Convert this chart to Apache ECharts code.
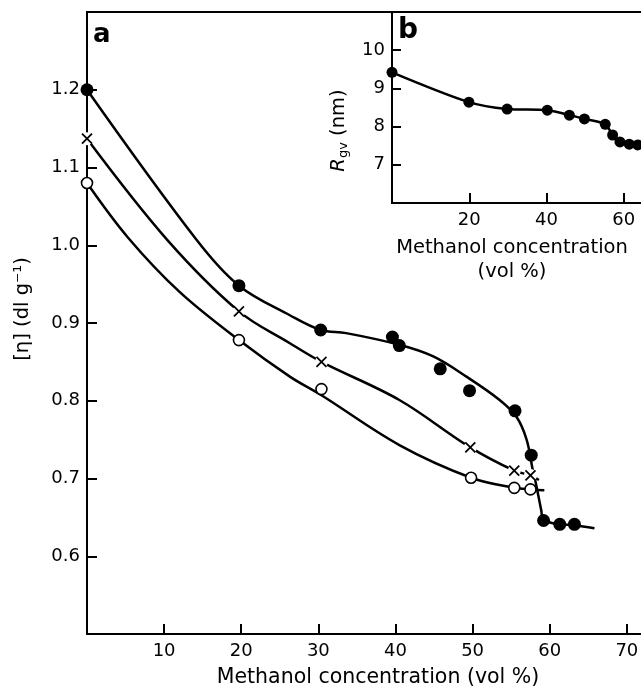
<!DOCTYPE html>
<html><head><meta charset="utf-8">
<script src="https://cdn.jsdelivr.net/npm/echarts@6/dist/echarts.min.js"></script>
<style>html,body{margin:0;padding:0;background:#fff}#c{width:641px;height:691px}</style>
</head><body><div id="c"></div>
<script>
// ---- Panel a : intrinsic viscosity vs methanol concentration ----
const filledPts = [[0,1.200],[19.7,0.948],[30.3,0.891],[39.6,0.882],[40.5,0.871],[45.8,0.841],[49.6,0.813],[55.5,0.787],[57.6,0.730],[59.2,0.646],[61.3,0.641],[63.2,0.641]];
const crossPts  = [[0,1.137],[19.7,0.915],[30.4,0.850],[49.7,0.740],[55.4,0.710],[57.5,0.704]];
const openPts   = [[0,1.080],[19.7,0.878],[30.4,0.815],[49.8,0.701],[55.4,0.688],[57.5,0.686]];
// hand-drawn fit curves
const filledFit = [[0,1.200],[14.2,1.007],[19.7,0.948],[26.3,0.910],[30.3,0.891],[33.6,0.887],[40.5,0.872],[44.9,0.857],[49.2,0.831],[53.5,0.801],[55.7,0.779],[57.0,0.750],[57.8,0.711],[58.2,0.694],[58.9,0.659],[59.2,0.647],[61.3,0.641],[63.2,0.640],[65.8,0.636]];
const crossFit  = [[0,1.137],[10.4,1.007],[19.7,0.915],[26.3,0.874],[30.4,0.850],[40.5,0.801],[49.7,0.740],[55.4,0.710],[57.5,0.704],[58.6,0.698]];
const openFit   = [[0,1.080],[5.3,1.010],[12,0.940],[19.7,0.878],[26.3,0.831],[30.4,0.807],[40.5,0.743],[49.8,0.701],[55.4,0.688],[57.5,0.686],[59.3,0.685]];
const mainXTicks = [10,20,30,40,50,60,70];
const mainYTicks = [0.6,0.7,0.8,0.9,1.0,1.1,1.2];
// ---- Panel b : Rgv vs methanol concentration ----
const rgvX = [0,19.9,29.8,40.2,45.9,49.8,55.2,57.1,59.0,61.4,63.6];
const rgvY = [9.42,8.64,8.46,8.43,8.30,8.20,8.06,7.78,7.60,7.54,7.52];
const insetXTicks = [20,40,60];
const insetYTicks = [7,8,9,10];

const FONT = 'DejaVu Sans';
const tickTxt = {color:'#000', fontFamily: FONT, fontSize: 18};
const nameTxt = {color:'#000', fontFamily: FONT, fontSize: 19.5};
const chart = echarts.init(document.getElementById('c'), null, {renderer:'canvas'});
const line = {color:'#000', width:2};
const tick = (len) => ({show:true, inside:true, length:len, lineStyle:{color:'#000', width:2}});

chart.setOption({
  animation:false,
  backgroundColor:'#fff',
  grid:[
    {left:87, top:12, width:563, height:622, show:true, borderColor:'#000', borderWidth:2, backgroundColor:'transparent', outerBoundsMode:'none', containLabel:false},
    {left:392, top:12, width:255, height:191, show:true, borderColor:'#000', borderWidth:2, backgroundColor:'#fff', z:5, outerBoundsMode:'none', containLabel:false}
  ],
  xAxis:[
    {gridIndex:0, type:'value', min:0, max:73, interval:10, splitLine:{show:false},
     axisLine:{lineStyle:line}, axisTick:tick(10),
     axisLabel:{...tickTxt, margin:8, formatter:v => mainXTicks.includes(v) ? String(v) : ''},
     name:'Methanol concentration (vol %)', nameLocation:'middle', nameGap:33,
     nameTextStyle:{...nameTxt, fontSize:20.5, padding:[0,0,0,19]}},
    {gridIndex:1, type:'value', min:0, max:66, interval:20, splitLine:{show:false}, z:6,
     axisLine:{lineStyle:line}, axisTick:tick(10),
     axisLabel:{...tickTxt, margin:8, formatter:v => insetXTicks.includes(v) ? String(v) : ''},
     name:'Methanol concentration\n(vol %)', nameLocation:'middle', nameGap:33,
     nameTextStyle:{...nameTxt, lineHeight:24, padding:[0,15,0,0]}}
  ],
  yAxis:[
    {gridIndex:0, type:'value', min:0.5, max:1.3, interval:0.1, splitLine:{show:false},
     axisLine:{lineStyle:line}, axisTick:tick(10),
     axisLabel:{...tickTxt, margin:7, formatter:v => {const r=Math.round(v*10)/10; return mainYTicks.includes(r) ? r.toFixed(1) : '';}},
     name:'[η] (dl g⁻¹)', nameLocation:'middle', nameGap:54, nameRotate:90,
     nameTextStyle:{...nameTxt, padding:[0,0,0,28]}},
    {gridIndex:1, type:'value', min:6, max:11, interval:1, splitLine:{show:false}, z:6,
     axisLine:{lineStyle:line}, axisTick:tick(9),
     axisLabel:{...tickTxt, margin:7, formatter:v => insetYTicks.includes(v) ? String(v) : ''},
     name:'{i|R}{s|gv} (nm)', nameLocation:'middle', nameGap:42, nameRotate:90,
     nameTextStyle:{...nameTxt, padding:[0,46,0,0], rich:{
       i:{fontFamily:FONT, fontSize:19.5, fontStyle:'italic', color:'#000'},
       s:{fontFamily:FONT, fontSize:13, color:'#000', verticalAlign:'bottom', padding:[9,0,0,0]}}}}
  ],
  series:[
    {type:'line', xAxisIndex:0, yAxisIndex:0, data:filledFit, smooth:0.35, symbol:'none', lineStyle:{color:'#000', width:2.5}, z:2},
    {type:'line', xAxisIndex:0, yAxisIndex:0, data:crossFit, smooth:0.35, symbol:'none', lineStyle:{color:'#000', width:2.5}, z:2},
    {type:'line', xAxisIndex:0, yAxisIndex:0, data:openFit, smooth:0.35, symbol:'none', lineStyle:{color:'#000', width:2.5}, z:2},
    {type:'scatter', xAxisIndex:0, yAxisIndex:0, data:crossPts, symbol:'circle', symbolSize:13, itemStyle:{color:'#fff', opacity:1}, z:3, clip:false},
    {type:'scatter', xAxisIndex:0, yAxisIndex:0, data:filledPts, symbol:'circle', symbolSize:13, itemStyle:{color:'#000', opacity:1}, z:4, clip:false},
    {type:'scatter', xAxisIndex:0, yAxisIndex:0, data:crossPts, symbol:'path://M0,0L10,10M10,0L0,10', symbolSize:10,
     itemStyle:{color:'none', borderColor:'#000', borderWidth:1.8, opacity:1}, z:4, clip:false},
    {type:'scatter', xAxisIndex:0, yAxisIndex:0, data:openPts, symbol:'circle', symbolSize:11,
     itemStyle:{color:'#fff', borderColor:'#000', borderWidth:1.6, opacity:1}, z:4, clip:false},
    {type:'line', xAxisIndex:1, yAxisIndex:1, data:rgvX.map((x,i)=>[x,rgvY[i]]), smooth:0.3,
     symbol:'circle', symbolSize:11, showAllSymbol:true, itemStyle:{color:'#000', opacity:1}, lineStyle:{color:'#000', width:2.5}, z:7, clip:false}
  ],
  graphic:[
    {type:'text', left:93, top:22, z:20, style:{text:'a', fill:'#000', font:'bold 26px "DejaVu Sans"'}},
    {type:'text', left:398, top:17, z:20, style:{text:'b', fill:'#000', font:'bold 28px "DejaVu Sans"'}}
  ]
});
</script></body></html>
